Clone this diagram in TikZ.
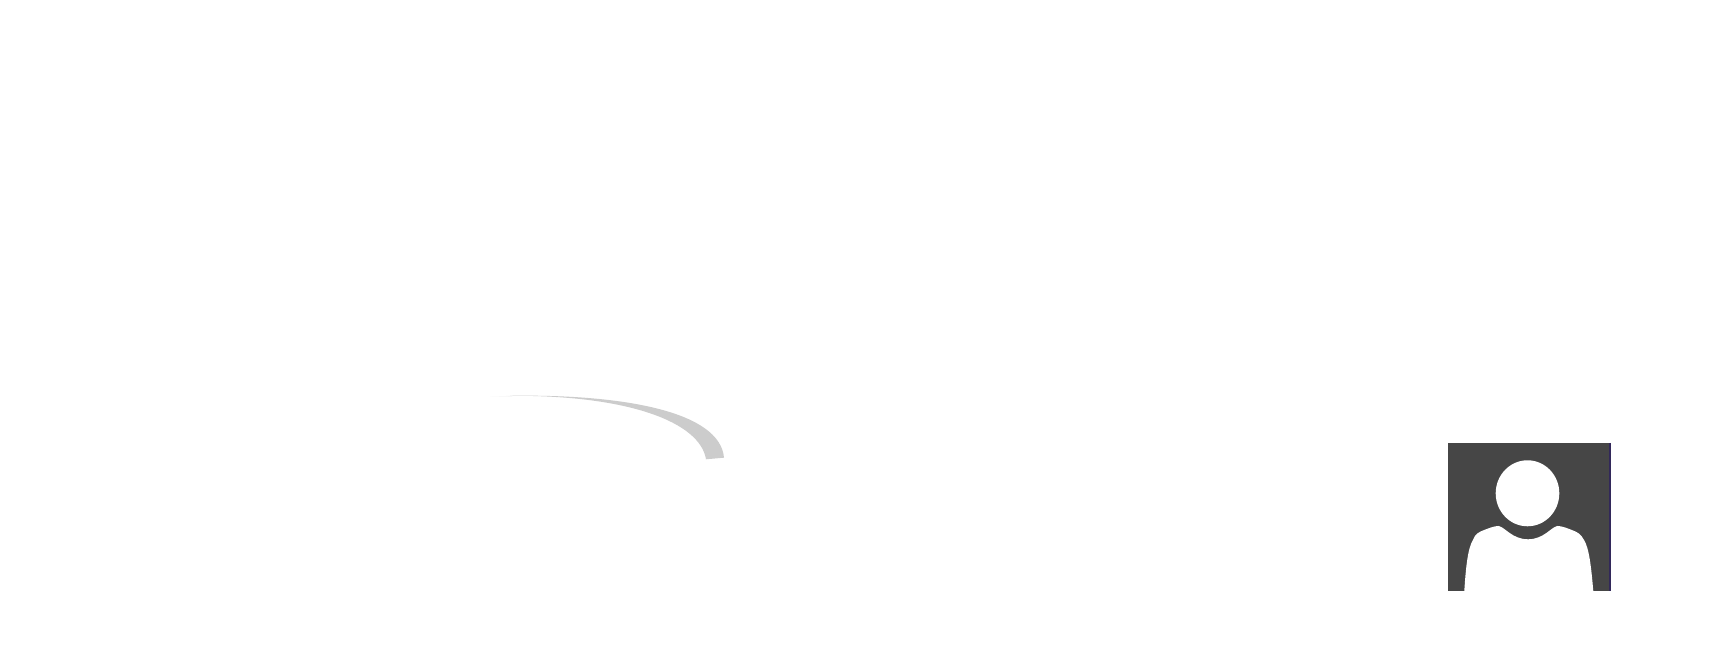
\documentclass[tikz,border=0pt]{standalone}
\usepackage{xcolor}

\definecolor{arcgray}{RGB}{204,204,204}
\definecolor{tailgray}{RGB}{247,247,247}
\definecolor{icongray}{RGB}{70,70,70}
\definecolor{iconedge}{RGB}{50,40,90}

\begin{document}

\begin{tikzpicture}[x=0.01cm, y=-0.01cm, every path/.style={line join=round}]

\useasboundingbox (0,0) rectangle (1711,665);
\fill[white] (0,0) rectangle (1711,665);

% swoosh
\fill[tailgray] (490,396.6) -- (512,395.8) -- (512,396.8) -- cycle;
\fill[arcgray] (510,395.8) .. controls (625,394) and (720,412) .. (724,457.7)
  -- (706,459.3) .. controls (700,422) and (628,395) .. cycle;

% person icon
\fill[icongray] (1448,443) rectangle (1610,591);
\draw[iconedge, line width=0.4pt] (1610,443) -- (1610,591);
\fill[white] (1527.5,493.3) ellipse [x radius=31.8, y radius=33];
\fill[white] (1464.3,591) .. controls (1466,565) and (1468,548) .. (1473,540)
  .. controls (1475,534) and (1479,532) .. (1483,530.5)
  .. controls (1488,528.5) and (1494,526) .. (1498.5,526)
  .. controls (1505,527) and (1512,539.3) .. (1528,539.3)
  .. controls (1544,539.3) and (1551,527) .. (1557.5,526)
  .. controls (1562,526) and (1568,528.5) .. (1573,530.5)
  .. controls (1577,532) and (1581,534) .. (1584,540)
  .. controls (1589,548) and (1591,565) .. (1593.3,591) -- cycle;

\end{tikzpicture}

\end{document}
